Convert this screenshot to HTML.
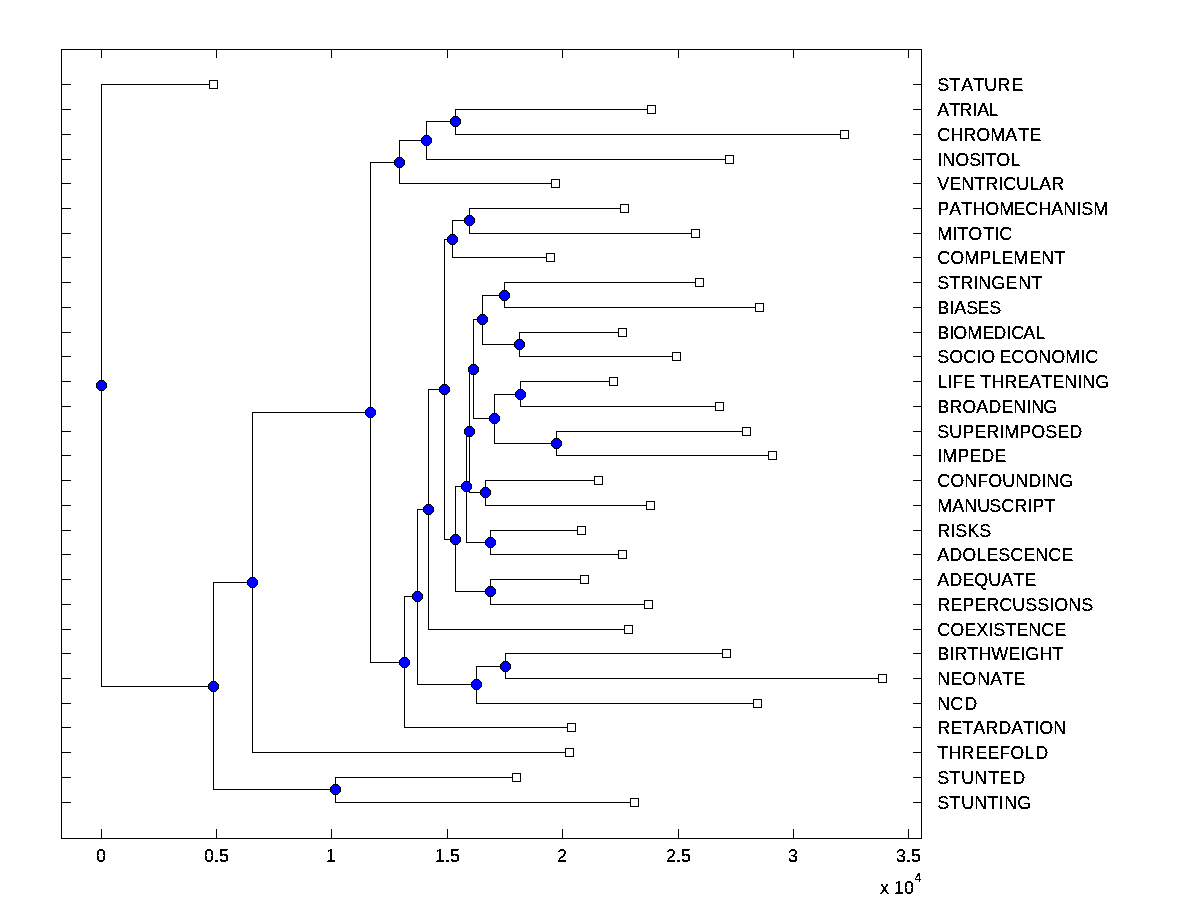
<!DOCTYPE html>
<html><head><meta charset="utf-8"><title>Phylogenetic tree</title>
<style>html,body{margin:0;padding:0;background:#fff;width:1200px;height:900px;overflow:hidden;}svg{display:block;}text{font-family:"Liberation Sans",sans-serif;fill:#000;font-kerning:none;}.ln{stroke:#000;stroke-width:1;fill:none;shape-rendering:crispEdges;}.sq{stroke:#000;stroke-width:1;fill:#fff;shape-rendering:crispEdges;}.nd{stroke:#000;stroke-width:1;fill:#00f;}</style></head><body>
<svg width="1200" height="900" viewBox="0 0 1200 900">
<defs><g id="nd" shape-rendering="crispEdges"><path fill="#000" d="M-2-5H3V-4H4V-3H5V-2H6V3H5V4H4V5H3V6H-2V5H-3V4H-4V3H-5V-2H-4V-3H-3V-4H-2Z"/><path fill="#00f" d="M-2-4H3V-3H4V-2H5V3H4V4H3V5H-2V4H-3V3H-4V-2H-3V-3H-2Z"/></g><filter id="bw" x="0" y="0" width="1200" height="900" filterUnits="userSpaceOnUse" color-interpolation-filters="sRGB"><feComponentTransfer><feFuncA type="discrete" tableValues="0 1 1"/></feComponentTransfer></filter></defs>
<rect x="0" y="0" width="1200" height="900" fill="#fff"/>
<rect class="ln" x="61.5" y="49.5" width="860" height="789"/>
<path class="ln" d="M101.5 839 v-10 M101.5 49 v9 M216.5 839 v-10 M216.5 49 v9 M331.5 839 v-10 M331.5 49 v9 M447.5 839 v-10 M447.5 49 v9 M562.5 839 v-10 M562.5 49 v9 M678.5 839 v-10 M678.5 49 v9 M793.5 839 v-10 M793.5 49 v9 M908.5 839 v-10 M908.5 49 v9 M61 84.5 h10 M922 84.5 h-9 M61 109.5 h10 M922 109.5 h-9 M61 134.5 h10 M922 134.5 h-9 M61 159.5 h10 M922 159.5 h-9 M61 183.5 h10 M922 183.5 h-9 M61 208.5 h10 M922 208.5 h-9 M61 233.5 h10 M922 233.5 h-9 M61 257.5 h10 M922 257.5 h-9 M61 282.5 h10 M922 282.5 h-9 M61 307.5 h10 M922 307.5 h-9 M61 332.5 h10 M922 332.5 h-9 M61 356.5 h10 M922 356.5 h-9 M61 381.5 h10 M922 381.5 h-9 M61 406.5 h10 M922 406.5 h-9 M61 431.5 h10 M922 431.5 h-9 M61 455.5 h10 M922 455.5 h-9 M61 480.5 h10 M922 480.5 h-9 M61 505.5 h10 M922 505.5 h-9 M61 530.5 h10 M922 530.5 h-9 M61 554.5 h10 M922 554.5 h-9 M61 579.5 h10 M922 579.5 h-9 M61 604.5 h10 M922 604.5 h-9 M61 629.5 h10 M922 629.5 h-9 M61 653.5 h10 M922 653.5 h-9 M61 678.5 h10 M922 678.5 h-9 M61 703.5 h10 M922 703.5 h-9 M61 727.5 h10 M922 727.5 h-9 M61 752.5 h10 M922 752.5 h-9 M61 777.5 h10 M922 777.5 h-9 M61 802.5 h10 M922 802.5 h-9"/>
<path class="ln" d="M101.5 385.5 V84.5 H213.5 M101.5 385.5 V686.5 H213.5 M213.5 686.5 V582.5 H252.5 M213.5 686.5 V789.5 H335.5 M252.5 582.5 V412.5 H370.5 M252.5 582.5 V752.5 H569.5 M335.5 789.5 V777.5 H516.5 M335.5 789.5 V802.5 H634.5 M370.5 412.5 V162.5 H399.5 M370.5 412.5 V662.5 H404.5 M399.5 162.5 V140.5 H426.5 M399.5 162.5 V183.5 H555.5 M426.5 140.5 V121.5 H455.5 M426.5 140.5 V159.5 H729.5 M455.5 121.5 V109.5 H651.5 M455.5 121.5 V134.5 H844.5 M404.5 662.5 V596.5 H417.5 M404.5 662.5 V727.5 H571.5 M417.5 596.5 V509.5 H428.5 M417.5 596.5 V684.5 H476.5 M428.5 509.5 V389.5 H444.5 M428.5 509.5 V629.5 H628.5 M476.5 684.5 V666.5 H505.5 M476.5 684.5 V703.5 H757.5 M505.5 666.5 V653.5 H726.5 M505.5 666.5 V678.5 H882.5 M444.5 389.5 V239.5 H452.5 M444.5 389.5 V539.5 H455.5 M452.5 239.5 V220.5 H469.5 M452.5 239.5 V257.5 H550.5 M469.5 220.5 V208.5 H624.5 M469.5 220.5 V233.5 H695.5 M455.5 539.5 V486.5 H466.5 M455.5 539.5 V591.5 H490.5 M490.5 591.5 V579.5 H584.5 M490.5 591.5 V604.5 H648.5 M466.5 486.5 V431.5 H469.5 M466.5 486.5 V542.5 H490.5 M490.5 542.5 V530.5 H581.5 M490.5 542.5 V554.5 H622.5 M469.5 431.5 V369.5 H473.5 M469.5 431.5 V492.5 H485.5 M485.5 492.5 V480.5 H598.5 M485.5 492.5 V505.5 H650.5 M473.5 369.5 V319.5 H482.5 M473.5 369.5 V418.5 H494.5 M482.5 319.5 V295.5 H504.5 M482.5 319.5 V344.5 H519.5 M504.5 295.5 V282.5 H699.5 M504.5 295.5 V307.5 H759.5 M519.5 344.5 V332.5 H622.5 M519.5 344.5 V356.5 H676.5 M494.5 418.5 V394.5 H520.5 M494.5 418.5 V443.5 H556.5 M520.5 394.5 V381.5 H613.5 M520.5 394.5 V406.5 H719.5 M556.5 443.5 V431.5 H746.5 M556.5 443.5 V455.5 H772.5"/>
<rect class="sq" x="209.5" y="80.5" width="8" height="8"/>
<rect class="sq" x="647.5" y="105.5" width="8" height="8"/>
<rect class="sq" x="840.5" y="130.5" width="8" height="8"/>
<rect class="sq" x="725.5" y="155.5" width="8" height="8"/>
<rect class="sq" x="551.5" y="179.5" width="8" height="8"/>
<rect class="sq" x="620.5" y="204.5" width="8" height="8"/>
<rect class="sq" x="691.5" y="229.5" width="8" height="8"/>
<rect class="sq" x="546.5" y="253.5" width="8" height="8"/>
<rect class="sq" x="695.5" y="278.5" width="8" height="8"/>
<rect class="sq" x="755.5" y="303.5" width="8" height="8"/>
<rect class="sq" x="618.5" y="328.5" width="8" height="8"/>
<rect class="sq" x="672.5" y="352.5" width="8" height="8"/>
<rect class="sq" x="609.5" y="377.5" width="8" height="8"/>
<rect class="sq" x="715.5" y="402.5" width="8" height="8"/>
<rect class="sq" x="742.5" y="427.5" width="8" height="8"/>
<rect class="sq" x="768.5" y="451.5" width="8" height="8"/>
<rect class="sq" x="594.5" y="476.5" width="8" height="8"/>
<rect class="sq" x="646.5" y="501.5" width="8" height="8"/>
<rect class="sq" x="577.5" y="526.5" width="8" height="8"/>
<rect class="sq" x="618.5" y="550.5" width="8" height="8"/>
<rect class="sq" x="580.5" y="575.5" width="8" height="8"/>
<rect class="sq" x="644.5" y="600.5" width="8" height="8"/>
<rect class="sq" x="624.5" y="625.5" width="8" height="8"/>
<rect class="sq" x="722.5" y="649.5" width="8" height="8"/>
<rect class="sq" x="878.5" y="674.5" width="8" height="8"/>
<rect class="sq" x="753.5" y="699.5" width="8" height="8"/>
<rect class="sq" x="567.5" y="723.5" width="8" height="8"/>
<rect class="sq" x="565.5" y="748.5" width="8" height="8"/>
<rect class="sq" x="512.5" y="773.5" width="8" height="8"/>
<rect class="sq" x="630.5" y="798.5" width="8" height="8"/>
<use href="#nd" x="101" y="385"/>
<use href="#nd" x="213" y="686"/>
<use href="#nd" x="252" y="582"/>
<use href="#nd" x="335" y="789"/>
<use href="#nd" x="370" y="412"/>
<use href="#nd" x="399" y="162"/>
<use href="#nd" x="426" y="140"/>
<use href="#nd" x="455" y="121"/>
<use href="#nd" x="404" y="662"/>
<use href="#nd" x="417" y="596"/>
<use href="#nd" x="428" y="509"/>
<use href="#nd" x="476" y="684"/>
<use href="#nd" x="505" y="666"/>
<use href="#nd" x="444" y="389"/>
<use href="#nd" x="452" y="239"/>
<use href="#nd" x="469" y="220"/>
<use href="#nd" x="455" y="539"/>
<use href="#nd" x="490" y="591"/>
<use href="#nd" x="466" y="486"/>
<use href="#nd" x="490" y="542"/>
<use href="#nd" x="469" y="431"/>
<use href="#nd" x="485" y="492"/>
<use href="#nd" x="473" y="369"/>
<use href="#nd" x="482" y="319"/>
<use href="#nd" x="504" y="295"/>
<use href="#nd" x="519" y="344"/>
<use href="#nd" x="494" y="418"/>
<use href="#nd" x="520" y="394"/>
<use href="#nd" x="556" y="443"/>
<g filter="url(#bw)">
<text x="937.25 949.25 961.25 973.25 984.25 997.25 1011.25" y="91.0" font-size="18">STATURE</text>
<text x="937.25 949.25 959.25 972.25 977.25 988.25" y="116.0" font-size="18">ATRIAL</text>
<text x="937.25 950.25 963.25 976.25 990.25 1005.25 1018.25 1029.25" y="141.0" font-size="18">CHROMATE</text>
<text x="937.25 942.25 955.25 969.25 980.25 985.25 996.25 1010.25" y="166.0" font-size="18">INOSITOL</text>
<text x="937.25 949.25 961.25 974.25 985.25 998.25 1003.25 1016.25 1029.25 1039.25 1051.25" y="190.0" font-size="18">VENTRICULAR</text>
<text x="937.25 949.25 961.25 972.25 985.25 999.25 1013.25 1025.25 1038.25 1051.25 1063.25 1076.25 1081.25 1093.25" y="215.0" font-size="18">PATHOMECHANISM</text>
<text x="937.25 952.25 957.25 968.25 983.25 994.25 999.25" y="240.0" font-size="18">MITOTIC</text>
<text x="937.25 950.25 964.25 979.25 991.25 1001.25 1013.25 1029.25 1041.25 1054.25" y="264.0" font-size="18">COMPLEMENT</text>
<text x="937.25 949.25 960.25 973.25 978.25 991.25 1005.25 1018.25 1031.25" y="289.0" font-size="18">STRINGENT</text>
<text x="937.25 949.25 954.25 966.25 977.25 989.25" y="314.0" font-size="18">BIASES</text>
<text x="937.25 949.25 953.25 967.25 982.25 993.25 1006.25 1011.25 1023.25 1035.25" y="339.0" font-size="18">BIOMEDICAL</text>
<text x="937.25 949.25 963.25 976.25 981.25 995.25 999.25 1011.25 1024.25 1038.25 1051.25 1065.25 1080.25 1085.25" y="363.0" font-size="18">SOCIO ECONOMIC</text>
<text x="937.25 947.25 952.25 963.25 975.25 980.25 991.25 1004.25 1017.25 1029.25 1041.25 1052.25 1064.25 1077.25 1082.25 1095.25" y="388.0" font-size="18">LIFE THREATENING</text>
<text x="937.25 949.25 962.25 976.25 988.25 1001.25 1013.25 1026.25 1031.25 1043.25" y="413.0" font-size="18">BROADENING</text>
<text x="937.25 949.25 962.25 974.25 986.25 999.25 1004.25 1019.25 1031.25 1045.25 1057.25 1069.25" y="438.0" font-size="18">SUPERIMPOSED</text>
<text x="937.25 942.25 957.25 969.25 981.25 994.25" y="462.0" font-size="18">IMPEDE</text>
<text x="937.25 950.25 964.25 977.25 988.25 1002.25 1015.25 1028.25 1041.25 1046.25 1059.25" y="487.0" font-size="18">CONFOUNDING</text>
<text x="937.25 952.25 964.25 977.25 989.25 1001.25 1014.25 1027.25 1032.25 1044.25" y="512.0" font-size="18">MANUSCRIPT</text>
<text x="937.25 950.25 955.25 967.25 979.25" y="537.0" font-size="18">RISKS</text>
<text x="937.25 949.25 962.25 976.25 986.25 998.25 1010.25 1023.25 1035.25 1048.25 1061.25" y="561.0" font-size="18">ADOLESCENCE</text>
<text x="937.25 949.25 962.25 974.25 988.25 1001.25 1013.25 1024.25" y="586.0" font-size="18">ADEQUATE</text>
<text x="937.25 950.25 962.25 974.25 986.25 999.25 1012.25 1025.25 1037.25 1049.25 1054.25 1068.25 1081.25" y="611.0" font-size="18">REPERCUSSIONS</text>
<text x="937.25 950.25 964.25 976.25 988.25 993.25 1005.25 1016.25 1028.25 1041.25 1054.25" y="636.0" font-size="18">COEXISTENCE</text>
<text x="937.25 949.25 954.25 967.25 978.25 991.25 1008.25 1020.25 1025.25 1039.25 1052.25" y="660.0" font-size="18">BIRTHWEIGHT</text>
<text x="937.25 950.25 962.25 977.25 990.25 1002.25 1013.25" y="685.0" font-size="18">NEONATE</text>
<text x="937.25 950.25 964.25" y="710.0" font-size="18">NCD</text>
<text x="937.25 950.25 962.25 973.25 985.25 998.25 1011.25 1023.25 1034.25 1039.25 1053.25" y="734.0" font-size="18">RETARDATION</text>
<text x="937.25 948.25 961.25 975.25 987.25 999.25 1010.25 1024.25 1035.25" y="759.0" font-size="18">THREEFOLD</text>
<text x="937.25 949.25 961.25 974.25 988.25 999.25 1012.25" y="784.0" font-size="18">STUNTED</text>
<text x="937.25 949.25 961.25 974.25 987.25 998.25 1004.25 1017.25" y="809.0" font-size="18">STUNTING</text>
<text x="96" y="861.5" font-size="18">0</text>
<text x="204 214 219" y="861.5" font-size="18">0.5</text>
<text x="326" y="861.5" font-size="18">1</text>
<text x="435 445 450" y="861.5" font-size="18">1.5</text>
<text x="557" y="861.5" font-size="18">2</text>
<text x="666 676 681" y="861.5" font-size="18">2.5</text>
<text x="788" y="861.5" font-size="18">3</text>
<text x="896 906 911" y="861.5" font-size="18">3.5</text>
<text x="880 889 894 904" y="893.5" font-size="18">x 10</text>
<text x="914.5" y="882" font-size="12">4</text>
</g>
</svg></body></html>
